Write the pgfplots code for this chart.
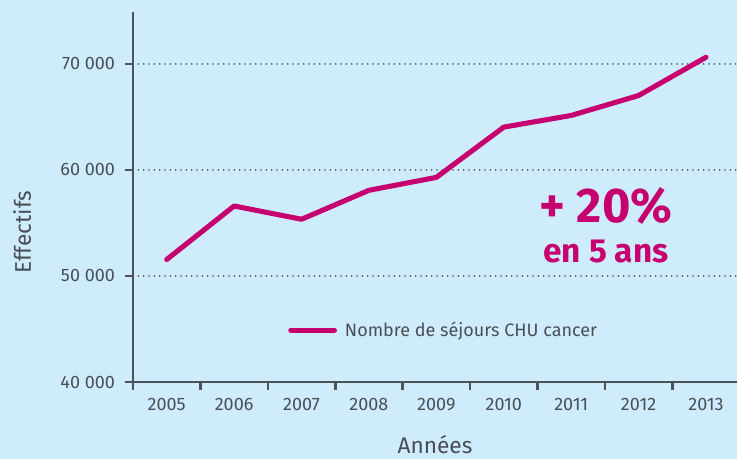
\documentclass[border=0pt]{standalone}
\usepackage{pgfplots}
\pgfplotsset{compat=1.18}
\usepackage{fontspec}
\setmainfont{Fira Sans}
\definecolor{bgblue}{HTML}{CFECFD}
\definecolor{magenta}{HTML}{C6006F}
\definecolor{txtgray}{HTML}{4A4F56}
\definecolor{axgray}{HTML}{4D535A}
\begin{document}
\begin{tikzpicture}[x=0.75pt,y=0.75pt]
\fill[bgblue] (0,0) rectangle (737,459);
\useasboundingbox (0,0) rectangle (737,459);
\coordinate (corner) at (133,77);
\begin{axis}[
    at={(corner)}, anchor=south west,
    scale only axis,
    width=453pt, height=277.5pt,
    xmin=-0.5, xmax=8.46,
    ymin=40000, ymax=74900,
    scaled y ticks=false,
    axis x line=bottom, axis y line=left,
    axis line style={axgray, line width=1.9pt, -},
    xtick={0,...,8},
    xticklabels={2005,2006,2007,2008,2009,2010,2011,2012,2013},
    major x tick style={draw=none},
    minor xtick={-0.5,0.5,...,7.5},
    minor tick length=6pt,
    minor tick style={axgray, line width=1.9pt},
    ytick={40000,50000,60000,70000},
    yticklabels={40 000,50 000,60 000,70 000},
    major y tick style={axgray, line width=1.9pt},
    major tick length=6pt,
    tick align=outside,
    tick label style={font=\fontsize{13.5}{15}\selectfont, text=txtgray},
    xticklabel style={yshift=-3pt},
    yticklabel style={xshift=-4pt},
    ymajorgrids,
    major grid style={axgray, line width=1.4pt, dash pattern=on 0pt off 4pt, line cap=round},
    xlabel={Années},
    ylabel={Effectifs},
    label style={font=\fontsize{17}{19}\selectfont, text=txtgray},
    xlabel style={yshift=-11pt},
    ylabel style={at={(ticklabel cs:0.405)}, yshift=15pt},
    legend style={at={(0.25,0.14)}, anchor=west, draw=none, fill=none,
        font=\fontsize{13.5}{15}\selectfont, text=txtgray,
        nodes={inner xsep=6pt}},
    legend image code/.code={\draw[#1, line cap=round] (0cm,0cm) -- (1.15cm,0cm);},
    clip=false,
]
\addplot[magenta, line width=3.8pt, line cap=round, line join=round] coordinates {
    (0,51550) (1,56600) (2,55350) (3,58080) (4,59300)
    (5,64040) (6,65140) (7,67020) (8,70630)
};
\legend{Nombre de séjours CHU cancer}
\end{axis}
\node[anchor=base, text=magenta, font=\fontsize{36.5}{38}\selectfont\bfseries] at (606,236) {+ 20\%};
\node[anchor=base, text=magenta, font=\fontsize{25}{27}\selectfont\bfseries] at (606,196) {en 5 ans};
\end{tikzpicture}
\end{document}
